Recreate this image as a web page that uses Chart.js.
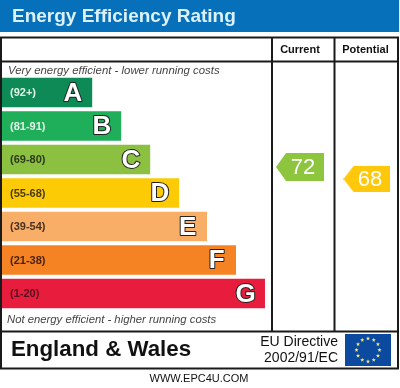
<!DOCTYPE html>
<html>
<head>
<meta charset="utf-8">
<title>Energy Efficiency Rating</title>
<script src="https://cdn.jsdelivr.net/npm/chart.js@4/dist/chart.umd.min.js"></script>
<style>
    html, body { margin: 0; padding: 0; background: #fff; }
    canvas { display: block; }
</style>
</head>
<body>
<canvas id="epcChart" width="400" height="388"></canvas>
<script>
const bandLetters = ["A", "B", "C", "D", "E", "F", "G"];
const bandRanges = ["(92+)", "(81-91)", "(69-80)", "(55-68)", "(39-54)", "(21-38)", "(1-20)"];
const bandLengths = [31, 41, 51, 61, 70.6, 80.6, 90.6];
const bandColors = ["#0d8a55", "#1fae59", "#8cc040", "#fccb05", "#f9ae68", "#f58223", "#e81d3d"];
const rangeColors = ["#e4f2ea", "#e4f2ea", "#2c3a1a", "#4a3a10", "#4a3020", "#4a2410", "#5a1020"];
const ratingColumns = [1, 2];
const ratingValues = [72, 68];
const ratingColors = ["#8dc53f", "#ffc80a"];
const titleText = "Energy Efficiency Rating";
const columnHeads = ["Current", "Potential"];
const topNote = "Very energy efficient - lower running costs";
const bottomNote = "Not energy efficient - higher running costs";
const countryText = "England & Wales";
const directiveLines = ["EU Directive", "2002/91/EC"];
const footerText = "WWW.EPC4U.COM";

const sansFont = '"Liberation Sans", Arial, sans-serif';

// arrow tag used as the point image for current / potential
function makeArrow(color, w, h) {
    const c = document.createElement('canvas');
    c.width = w;
    c.height = h;
    const g = c.getContext('2d');
    g.fillStyle = color;
    g.beginPath();
    g.moveTo(0, h / 2);
    g.lineTo(10, 0);
    g.lineTo(w, 0);
    g.lineTo(w, h);
    g.lineTo(10, h);
    g.closePath();
    g.fill();
    return c;
}

function drawText(ctx, text, x, y, font, color, align) {
    ctx.font = font;
    ctx.fillStyle = color;
    ctx.textAlign = align || 'left';
    ctx.textBaseline = 'middle';
    ctx.fillText(text, x, y);
}

function drawFlag(ctx) {
    ctx.fillStyle = '#0b4a9e';
    ctx.fillRect(345, 334, 46, 32);
    ctx.fillStyle = '#f3e98a';
    for (let i = 0; i < 12; i++) {
        const a = i * Math.PI / 6;
        const cx = 368 + Math.cos(a) * 11.5;
        const cy = 350 + Math.sin(a) * 11.5;
        ctx.beginPath();
        for (let k = 0; k < 10; k++) {
            const r = k % 2 ? 0.9 : 2.2;
            const t = -Math.PI / 2 + k * Math.PI / 5;
            ctx.lineTo(cx + Math.cos(t) * r, cy + Math.sin(t) * r);
        }
        ctx.closePath();
        ctx.fill();
    }
}

const framePlugin = {
    id: 'frame',
    beforeDraw(chart) {
        const ctx = chart.ctx;
        ctx.save();
        ctx.fillStyle = '#fff';
        ctx.fillRect(0, 0, 400, 388);

        // title band
        ctx.fillStyle = '#0670bb';
        ctx.fillRect(0, 0, 399, 32);
        drawText(ctx, titleText, 12, 17, 'bold 19px ' + sansFont, '#dcf2fa');

        // table lines
        ctx.strokeStyle = '#1a1a1a';
        ctx.lineWidth = 2;
        ctx.strokeRect(1, 37.5, 397, 331);
        ctx.beginPath();
        ctx.moveTo(1, 61.5); ctx.lineTo(398, 61.5);
        ctx.moveTo(1, 331.5); ctx.lineTo(398, 331.5);
        ctx.moveTo(272, 37); ctx.lineTo(272, 331);
        ctx.moveTo(334.5, 37); ctx.lineTo(334.5, 331);
        ctx.stroke();

        drawText(ctx, columnHeads[0], 300, 49.5, 'bold 11px ' + sansFont, '#111', 'center');
        drawText(ctx, columnHeads[1], 365.5, 49.5, 'bold 11px ' + sansFont, '#111', 'center');
        drawText(ctx, topNote, 8, 71, 'italic 11.4px ' + sansFont, '#444');
        drawText(ctx, bottomNote, 7, 320, 'italic 11.3px ' + sansFont, '#444');
        drawText(ctx, countryText, 11, 350, 'bold 22.3px ' + sansFont, '#111');
        drawText(ctx, directiveLines[0], 338, 342, '14px ' + sansFont, '#111', 'right');
        drawText(ctx, directiveLines[1], 338, 358, '14px ' + sansFont, '#111', 'right');
        drawFlag(ctx);
        drawText(ctx, footerText, 199, 379, '11px ' + sansFont, '#111', 'center');
        ctx.restore();
    },
    afterDatasetsDraw(chart) {
        const ctx = chart.ctx;
        ctx.save();
        // labels inside the bars
        chart.getDatasetMeta(0).data.forEach((bar, i) => {
            drawText(ctx, bandRanges[i], 10, bar.y + 0.5, 'bold 11px ' + sansFont, rangeColors[i]);
            ctx.font = 'bold 26px ' + sansFont;
            ctx.textAlign = 'center';
            ctx.textBaseline = 'middle';
            ctx.lineJoin = 'round';
            ctx.lineWidth = 2;
            ctx.strokeStyle = '#222';
            ctx.strokeText(bandLetters[i], bar.x - 19, bar.y + 1);
            ctx.fillStyle = '#fff';
            ctx.fillText(bandLetters[i], bar.x - 19, bar.y + 1);
        });
        // numbers on the arrows
        chart.getDatasetMeta(1).data.forEach((pt, i) => {
            drawText(ctx, String(ratingValues[i]), pt.x + 3, pt.y + 0.5, '22px ' + sansFont, '#fff', 'center');
        });
        ctx.restore();
    }
};

const epcChart = new Chart(document.getElementById('epcChart').getContext('2d'), {
    type: 'bar',
    data: {
        labels: bandLetters,
        datasets: [
            {
                type: 'bar',
                indexAxis: 'y',
                grouped: false,
                data: bandLengths,
                backgroundColor: bandColors,
                barThickness: 29,
                xAxisID: 'xBand',
                yAxisID: 'yBand'
            },
            {
                type: 'scatter',
                data: ratingValues.map((v, i) => ({ x: ratingColumns[i], y: v })),
                pointStyle: [makeArrow(ratingColors[0], 48, 28), makeArrow(ratingColors[1], 47, 26)],
                xAxisID: 'xColumn',
                yAxisID: 'yRating',
                clip: false
            }
        ]
    },
    options: {
        responsive: false,
        animation: false,
        layout: { autoPadding: false, padding: { top: 75.75, bottom: 77.75, left: 2, right: 2 } },
        plugins: { legend: { display: false }, tooltip: { enabled: false } },
        scales: {
            xBand: { type: 'linear', display: false, offset: false, min: 0, max: 136.6 },
            yBand: { type: 'category', display: false, offset: true },
            xColumn: { type: 'linear', display: false, offset: false, min: -3.448, max: 2.463 },
            yRating: { type: 'linear', display: false, offset: false, min: 24.25, max: 102.4 }
        }
    },
    plugins: [framePlugin]
});
</script>
</body>
</html>
